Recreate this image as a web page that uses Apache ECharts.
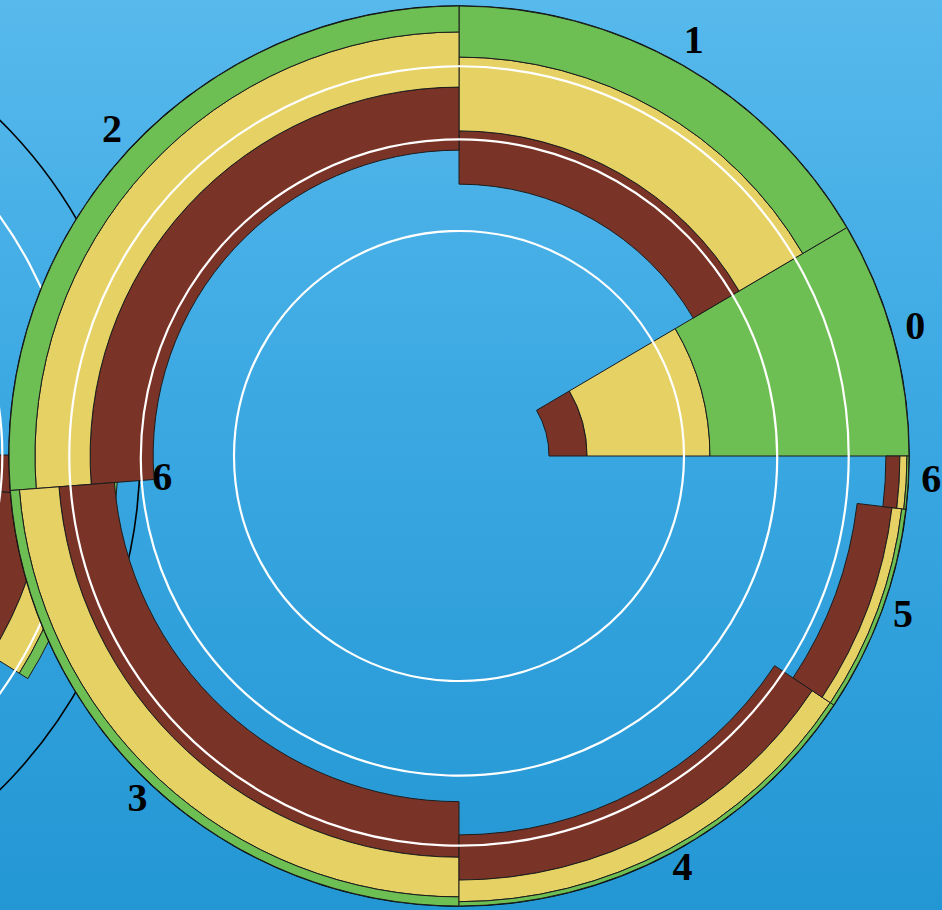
<!DOCTYPE html>
<html>
<head>
<meta charset="utf-8">
<script src="https://cdn.jsdelivr.net/npm/echarts@6/dist/echarts.min.js"></script>
<style>
html,body{margin:0;padding:0;width:942px;height:910px;overflow:hidden;
background:linear-gradient(180deg,#57b9ec 0%,#3ba8e2 45%,#2397d4 100%);}
#chart{width:942px;height:910px;}
</style>
</head>
<body>
<div id="chart"></div>
<script>
// ---- data ----
const categories = ['0', '1', '2', '3', '4', '5', '6'];

// main (right) chart: angular share of each category (degrees) and radial stacked values (area %)
const mainAngleShare = [30.5, 59.5, 94.4, 85.6, 56.4, 26.8, 6.8];
const mainBase   = [4.0, 36.5, 46.2, 59.0, 70.9, 79.4, 90.0];
const mainBrown  = [4.1, 15.7, 21.0, 20.5, 17.9, 14.5, 6.0];
const mainYellow = [23.0, 26.4, 21.6, 16.5, 9.3, 4.3, 3.1];
const mainGreen  = [68.9, 21.4, 11.2, 4.0, 1.9, 1.8, 0.9];

// second (left, mostly off-screen) chart
const leftAngleShare = [30.5, 59.5, 94.4, 85.6, 58.0, 25.7, 6.3];
const leftBase   = [2, 20, 30, 35, 38, 40, 40];
const leftBrown  = [3, 15, 20, 18, 17, 24.7, 30];
const leftYellow = [15, 15, 15, 12, 8, 12.1, 16];
const leftGreen  = [25, 8, 5, 3, 2, 3.8, 4.9];

const gridValues = [25, 50, 75];
const valueMax = 100;

const layerColors = ['#7a3327', '#e6d165', '#6ebf53'];

// ---- build ----
function buildSegments(angleShare, base, layers) {
  const out = [];
  let a = 0;
  angleShare.forEach(function (w, i) {
    let v = base[i];
    layers.forEach(function (vals, k) {
      const v1 = v + vals[i];
      out.push([a, a + w, v, v1, k]);
      v = v1;
    });
    a += w;
  });
  return out;
}

function sectorItem(params, api) {
  const a0 = api.value(0), a1 = api.value(1), v0 = api.value(2), v1 = api.value(3);
  const k = api.value(4);
  const c = api.coord([0, 0]);
  const pIn = api.coord([Math.sqrt(v0), a0]);
  const pOut0 = api.coord([Math.sqrt(v1), a0]);
  const pOut1 = api.coord([Math.sqrt(v1), a1]);
  const r0 = Math.hypot(pIn[0] - c[0], pIn[1] - c[1]);
  const r = Math.hypot(pOut0[0] - c[0], pOut0[1] - c[1]);
  let s = Math.atan2(pOut1[1] - c[1], pOut1[0] - c[0]);
  let e = Math.atan2(pOut0[1] - c[1], pOut0[0] - c[0]);
  while (e <= s) e += 2 * Math.PI;
  return {
    type: 'sector',
    shape: {cx: c[0], cy: c[1], r0: r0, r: r, startAngle: s, endAngle: e, clockwise: true},
    style: {fill: layerColors[k], stroke: '#1c1c1c', lineWidth: 1}
  };
}

function labelData(angleShare) {
  const d = [];
  let a = 0;
  angleShare.forEach(function (w) { d.push([valueMax, a + w / 2]); a += w; });
  return d;
}

function labelItem(params, api) {
  const c = api.coord([0, 0]);
  const p = api.coord([Math.sqrt(api.value(0)), api.value(1)]);
  const dx = p[0] - c[0], dy = p[1] - c[1], d = Math.hypot(dx, dy);
  const x = p[0] + dx / d * 23;
  const y = p[1] + dy / d * 23 - 6;
  // labels of the off-screen part of the second chart are not drawn
  if (x < 0 || x > api.getWidth() || y < 0 || y > api.getHeight()) return null;
  return {
    type: 'text',
    x: x,
    y: y,
    style: {
      text: categories[params.dataIndex],
      fill: '#000',
      font: 'bold 40px "Liberation Serif", "DejaVu Serif", serif',
      align: 'center',
      verticalAlign: 'middle'
    }
  };
}

function angleAxis(polarIndex, z) {
  return {
    polarIndex: polarIndex, type: 'value', min: 0, max: 360,
    startAngle: 0, clockwise: false, z: z,
    axisLine: {show: true, lineStyle: {color: '#000', width: 1.6}},
    axisTick: {show: false}, axisLabel: {show: false},
    splitLine: {show: false}
  };
}

function radiusAxis(polarIndex, z) {
  const ticks = gridValues.map(Math.sqrt);
  return {
    polarIndex: polarIndex, type: 'value', min: 0, max: Math.sqrt(valueMax), z: z,
    axisLine: {show: false},
    axisTick: {show: false, customValues: ticks},
    axisLabel: {show: false, customValues: ticks},
    splitLine: {show: true, lineStyle: {color: '#ffffff', width: 2.2}},
    splitArea: {show: false}
  };
}

const mainSegments = buildSegments(mainAngleShare, mainBase, [mainBrown, mainYellow, mainGreen]);
const leftSegments = buildSegments(leftAngleShare, leftBase, [leftBrown, leftYellow, leftGreen]);

const chart = echarts.init(document.getElementById('chart'), null, {renderer: 'svg'});
chart.setOption({
  backgroundColor: 'transparent',
  animation: false,
  polar: [
    {center: [459, 456], radius: 450},
    {center: [-330, 455], radius: 470}
  ],
  angleAxis: [angleAxis(0, 3), angleAxis(1, 1)],
  radiusAxis: [radiusAxis(0, 5), radiusAxis(1, 3)],
  series: [
    {type: 'custom', coordinateSystem: 'polar', polarIndex: 1, z: 2, silent: true,
     data: leftSegments, renderItem: sectorItem},
    {type: 'custom', coordinateSystem: 'polar', polarIndex: 1, z: 2, silent: true,
     data: labelData(leftAngleShare), renderItem: labelItem},
    {type: 'custom', coordinateSystem: 'polar', polarIndex: 0, z: 4, silent: true,
     data: mainSegments, renderItem: sectorItem},
    {type: 'custom', coordinateSystem: 'polar', polarIndex: 0, z: 4, silent: true,
     data: labelData(mainAngleShare), renderItem: labelItem}
  ]
});
</script>
</body>
</html>
